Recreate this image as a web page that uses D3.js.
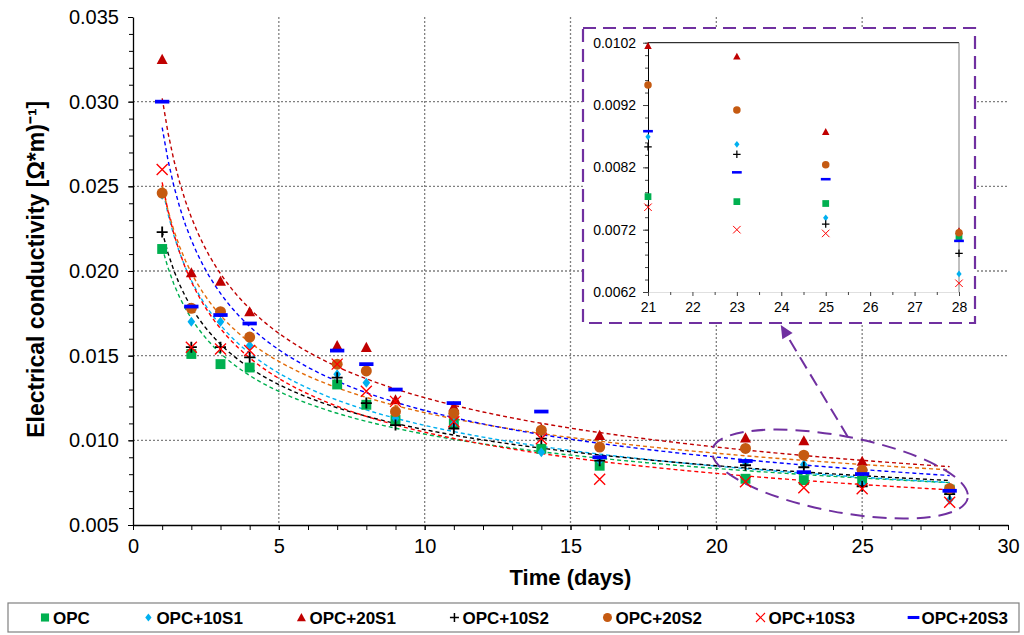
<!DOCTYPE html>
<html>
<head>
<meta charset="utf-8">
<script src="https://cdn.jsdelivr.net/npm/d3@7"></script>
<style>
  body { margin: 0; background: #fff; }
  svg { font-family: "Liberation Sans", Arial, sans-serif; }
</style>
</head>
<body>
<div id="chart"></div>
<script>
// electrical conductivity vs time, 7 mixes, power trendlines + zoomed inset
const days = [1, 2, 3, 4, 7, 8, 9, 11, 14, 16, 21, 23, 25, 28];
const seriesNames = ['OPC', 'OPC+10S1', 'OPC+20S1', 'OPC+10S2', 'OPC+20S2', 'OPC+10S3', 'OPC+20S3'];
const opc    = [0.0213, 0.0151, 0.0145, 0.0143, 0.0133, 0.0121, 0.0112, 0.0110, 0.0095, 0.0085, 0.00773, 0.00765, 0.00762, 0.00709];
const opc10s1 = [0.0245, 0.0170, 0.0170, 0.0156, 0.0139, 0.0134, 0.0113, 0.0110, 0.0093, 0.0088, 0.00869, 0.00857, 0.00739, 0.00649];
const opc20s1 = [0.0325, 0.0199, 0.0194, 0.0176, 0.0156, 0.0155, 0.0124, 0.0120, 0.0107, 0.0103, 0.01015, 0.00998, 0.00877, 0.00718];
const opc10s2 = [0.0223, 0.0155, 0.0155, 0.0149, 0.0137, 0.0122, 0.0109, 0.0107, 0.0101, 0.0088, 0.00853, 0.00841, 0.00729, 0.00682];
const opc20s2 = [0.0246, 0.0178, 0.0176, 0.0161, 0.0145, 0.0141, 0.0117, 0.0116, 0.0106, 0.0096, 0.00952, 0.00912, 0.00824, 0.00715];
const opc10s3 = [0.0260, 0.0155, 0.0154, 0.0153, 0.0145, 0.0129, 0.0123, 0.0111, 0.0101, 0.0077, 0.00756, 0.00720, 0.00714, 0.00634];
const opc20s3 = [0.0300, 0.0179, 0.0174, 0.0169, 0.0153, 0.0145, 0.0130, 0.0122, 0.0117, 0.0090, 0.00878, 0.00812, 0.00801, 0.00702];
const seriesValues = [opc, opc10s1, opc20s1, opc10s2, opc20s2, opc10s3, opc20s3];

const markerColors = ['#00b050', '#00b0f0', '#c00000', '#000000', '#c55a11', '#ff0000', '#0000ff'];
const trendColors  = ['#00b050', '#00b0f0', '#c00000', '#000000', '#e36c09', '#ff0000', '#0000ff'];
const markerTypes  = ['square', 'diamond', 'triangle', 'plus', 'circle', 'cross', 'dash'];

const xTicks = [0, 5, 10, 15, 20, 25, 30];
const yTicks = [0.005, 0.010, 0.015, 0.020, 0.025, 0.030, 0.035];
const insetXTicks = [21, 22, 23, 24, 25, 26, 27, 28];
const insetYTicks = [0.0062, 0.0072, 0.0082, 0.0092, 0.0102];

const width = 1024, height = 635;
const svg = d3.select('#chart').append('svg').attr('width', width).attr('height', height);

const x = d3.scaleLinear().domain([0, 30]).range([133, 1008]);
const y = d3.scaleLinear().domain([0.005, 0.035]).range([525, 17]);

const purple = '#7030a0';

function marker(g, type, color, s) {
  // s = nominal size in px
  const h = s / 2;
  if (type === 'square') {
    g.append('rect').attr('x', -h * 0.9).attr('y', -h * 0.9).attr('width', s * 0.9).attr('height', s * 0.9).attr('fill', color);
  } else if (type === 'diamond') {
    g.append('path').attr('d', `M0,${-h * 0.9}L${h * 0.7},0L0,${h * 0.9}L${-h * 0.7},0Z`).attr('fill', color);
  } else if (type === 'triangle') {
    g.append('path').attr('d', `M0,${-h}L${h},${h * 0.85}L${-h},${h * 0.85}Z`).attr('fill', color);
  } else if (type === 'plus') {
    g.append('path').attr('d', `M${-h},0H${h}M0,${-h}V${h}`).attr('stroke', color).attr('stroke-width', Math.max(1, s / 6));
  } else if (type === 'circle') {
    g.append('circle').attr('r', h).attr('fill', color);
  } else if (type === 'cross') {
    g.append('path').attr('d', `M${-h},${-h}L${h},${h}M${h},${-h}L${-h},${h}`).attr('stroke', color).attr('stroke-width', Math.max(1, s / 8));
  } else if (type === 'dash') {
    g.append('rect').attr('x', -s * 0.65).attr('y', -s * 0.17).attr('width', s * 1.3).attr('height', s * 0.34).attr('fill', color);
  }
}

function powerFit(xs, ys) {
  const lx = xs.map(Math.log), ly = ys.map(Math.log);
  const mx = d3.mean(lx), my = d3.mean(ly);
  const b = d3.sum(lx, (v, i) => (v - mx) * (ly[i] - my)) / d3.sum(lx, v => (v - mx) * (v - mx));
  const a = Math.exp(my - b * mx);
  return t => a * Math.pow(t, b);
}

// gridlines
const grid = svg.append('g').attr('stroke', '#808080').attr('stroke-width', 1.3).attr('stroke-dasharray', '2,2');
grid.selectAll('.vg').data(xTicks.filter(d => d > 0 && d < 30)).enter().append('line')
  .attr('x1', d => x(d)).attr('x2', d => x(d)).attr('y1', y(0.035)).attr('y2', y(0.005));
grid.selectAll('.hg').data(yTicks.filter(d => d > 0.005 && d < 0.035)).enter().append('line')
  .attr('y1', d => y(d)).attr('y2', d => y(d)).attr('x1', x(0)).attr('x2', x(30));

// axes
const yAxis = svg.append('g').attr('transform', `translate(${x(0)},0)`)
  .call(d3.axisLeft(y).tickValues(yTicks).tickFormat(d3.format('.3f')).tickSize(5).tickSizeOuter(0));
svg.append('g').attr('transform', `translate(${x(0)},0)`)
  .call(d3.axisLeft(y).tickValues(d3.range(5, 36).map(d => d / 1000)).tickFormat('').tickSize(4).tickSizeOuter(0))
  .select('.domain').remove();
const xAxis = svg.append('g').attr('transform', `translate(0,${y(0.005)})`)
  .call(d3.axisBottom(x).tickValues(xTicks).tickFormat(d3.format('d')).tickSize(5).tickSizeOuter(0));
svg.append('g').attr('transform', `translate(0,${y(0.005)})`)
  .call(d3.axisBottom(x).tickValues(d3.range(0, 31)).tickFormat('').tickSize(5).tickSizeOuter(0))
  .select('.domain').remove();
svg.selectAll('.tick text').attr('font-size', 20).attr('fill', '#000').attr('font-family', '"Liberation Sans", Arial, sans-serif');
yAxis.selectAll('.tick text').attr('dx', '-6');
xAxis.selectAll('.tick text').attr('dy', '1.0em');
svg.selectAll('.domain').attr('stroke', '#000').attr('stroke-width', 1.3);
svg.selectAll('.tick line').attr('stroke', '#000');

svg.append('text').attr('x', (x(0) + x(30)) / 2).attr('y', 585).attr('text-anchor', 'middle')
  .attr('font-size', 22).attr('font-weight', 'bold').text('Time (days)');
svg.append('text').attr('transform', `translate(44,${y(0.0201)}) rotate(-90)`).attr('text-anchor', 'middle')
  .attr('font-size', 23).attr('font-weight', 'bold').text('Electrical conductivity [Ω*m)⁻¹]');

// trendlines
const tSamples = d3.range(1, 28.001, 0.2);
const line = d3.line().x(d => x(d[0])).y(d => y(d[1]));
seriesValues.forEach((vals, i) => {
  const f = powerFit(days, vals);
  svg.append('path').attr('d', line(tSamples.map(t => [t, f(t)])))
    .attr('fill', 'none').attr('stroke', trendColors[i]).attr('stroke-width', 1.4).attr('stroke-dasharray', '4,3');
});

// ellipse annotation around days 21-28
const ecx = x(24.24), ecy = y(0.00801);
svg.append('ellipse').attr('cx', ecx).attr('cy', ecy).attr('rx', 130).attr('ry', 38)
  .attr('transform', `rotate(10.7,${ecx},${ecy})`)
  .attr('fill', 'none').attr('stroke', purple).attr('stroke-width', 2).attr('stroke-dasharray', '14,8');

// points
seriesValues.forEach((vals, i) => {
  svg.append('g').selectAll('g').data(days.map((d, j) => [d, vals[j]])).enter().append('g')
    .attr('transform', d => `translate(${x(d[0])},${y(d[1])})`)
    .each(function () { marker(d3.select(this), markerTypes[i], markerColors[i], 11); });
});

// inset
const ix = d3.scaleLinear().domain([21, 28]).range([648, 959]);
const iy = d3.scaleLinear().domain([0.0062, 0.0102]).range([292, 42.7]);
const inset = svg.append('g');
inset.append('rect').attr('x', 583).attr('y', 28).attr('width', 392).attr('height', 295)
  .attr('fill', '#fff').attr('stroke', purple).attr('stroke-width', 2.2).attr('stroke-dasharray', '13,7');
inset.append('line').attr('x1', ix(21)).attr('x2', ix(28)).attr('y1', iy(0.0102)).attr('y2', iy(0.0102)).attr('stroke', '#000');
inset.append('line').attr('x1', ix(28)).attr('x2', ix(28)).attr('y1', iy(0.0102)).attr('y2', iy(0.0062)).attr('stroke', '#808080');
const iyAxis = inset.append('g').attr('transform', `translate(${ix(21)},0)`)
  .call(d3.axisLeft(iy).tickValues(insetYTicks).tickFormat(d3.format('.4f')).tickSize(5).tickSizeOuter(0));
inset.append('g').attr('transform', `translate(${ix(21)},0)`)
  .call(d3.axisLeft(iy).tickValues(d3.range(62, 103, 2).map(d => d / 10000)).tickFormat('').tickSize(3).tickSizeOuter(0))
  .select('.domain').remove();
const ixAxis = inset.append('g').attr('transform', `translate(0,${iy(0.0062)})`)
  .call(d3.axisBottom(ix).tickValues(insetXTicks).tickFormat(d3.format('d')).tickSize(4).tickSizeOuter(0));
inset.append('g').attr('transform', `translate(0,${iy(0.0062)})`)
  .call(d3.axisBottom(ix).tickValues(d3.range(21.5, 28, 1)).tickFormat('').tickSize(3).tickSizeOuter(0))
  .select('.domain').remove();
iyAxis.select('.domain').attr('stroke', '#000');
ixAxis.select('.domain').attr('stroke', '#e0e0e0');
inset.selectAll('.tick line').attr('stroke', '#444');
inset.selectAll('.tick text').attr('font-size', 14).attr('fill', '#000');
iyAxis.selectAll('.tick text').attr('dx', '-4');
ixAxis.selectAll('.tick text').attr('dy', '0.95em');

seriesValues.forEach((vals, i) => {
  inset.append('g').selectAll('g').data(days.map((d, j) => [d, vals[j]]).filter(d => d[0] >= 21)).enter().append('g')
    .attr('transform', d => `translate(${ix(d[0])},${iy(d[1])})`)
    .each(function () { marker(d3.select(this), markerTypes[i], markerColors[i], 7.5); });
});

// arrow from ellipse to inset
const ax1 = x(24.51), ay1 = y(0.0102);
const ax2 = ix(24) - 0.5, ay2 = 325;
svg.append('line').attr('x1', ax1).attr('y1', ay1).attr('x2', ax2 + 4).attr('y2', ay2 + 7)
  .attr('stroke', purple).attr('stroke-width', 2).attr('stroke-dasharray', '13,7');
const ang = Math.atan2(ay2 - ay1, ax2 - ax1);
const ahL = 13, ahW = 6;
const bx = ax2 - ahL * Math.cos(ang), by = ay2 - ahL * Math.sin(ang);
svg.append('path')
  .attr('d', `M${ax2},${ay2}L${bx + ahW * Math.sin(ang)},${by - ahW * Math.cos(ang)}L${bx - ahW * Math.sin(ang)},${by + ahW * Math.cos(ang)}Z`)
  .attr('fill', purple);

// legend
const legend = svg.append('g');
legend.append('rect').attr('x', 8).attr('y', 603).attr('width', 1011).attr('height', 29)
  .attr('fill', '#fff').attr('stroke', '#808080').attr('stroke-width', 1.2);
const items = legend.selectAll('.li').data(seriesNames).enter().append('g').attr('class', 'li');
items.append('text').attr('x', 12).attr('y', 624).attr('font-size', 17).attr('font-weight', 'bold').text(d => d);
const widths = [];
items.select('text').each(function () { widths.push(this.getComputedTextLength()); });
const itemW = widths.map(w => w + 12);
const gap = (1008 - 41 - d3.sum(itemW)) / (seriesNames.length - 1);
let cx = 41;
items.each(function (d, i) {
  const g = d3.select(this);
  g.attr('transform', `translate(${cx},0)`);
  const mg = g.append('g').attr('transform', 'translate(4,617.5)');
  marker(mg, markerTypes[i], markerColors[i], 9);
  cx += itemW[i] + gap;
});
</script>
</body>
</html>
